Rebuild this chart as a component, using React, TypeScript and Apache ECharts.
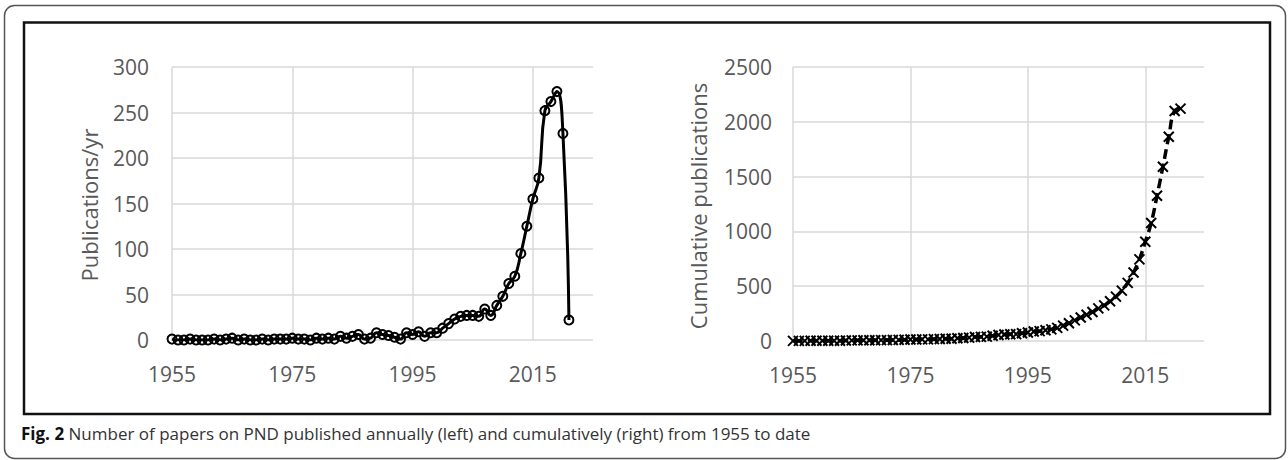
import React, { useEffect, useRef } from 'react';
import * as echarts from 'echarts';

const years = [
  1955, 1956, 1957, 1958, 1959, 1960, 1961, 1962, 1963, 1964,
  1965, 1966, 1967, 1968, 1969, 1970, 1971, 1972, 1973, 1974,
  1975, 1976, 1977, 1978, 1979, 1980, 1981, 1982, 1983, 1984,
  1985, 1986, 1987, 1988, 1989, 1990, 1991, 1992, 1993, 1994,
  1995, 1996, 1997, 1998, 1999, 2000, 2001, 2002, 2003, 2004,
  2005, 2006, 2007, 2008, 2009, 2010, 2011, 2012, 2013, 2014,
  2015, 2016, 2017, 2018, 2019, 2020, 2021,
];

const annual = [
  1, 0, 0, 1, 0, 0, 0, 1, 0, 1,
  2, 0, 1, 0, 0, 1, 0, 1, 1, 1,
  2, 1, 1, 0, 2, 1, 2, 1, 4, 2,
  4, 6, 1, 2, 8, 6, 5, 3, 1, 8,
  6, 9, 4, 8, 8, 13, 18, 23, 26, 27,
  27, 26, 34, 27, 38, 48, 62, 70, 95, 125,
  155, 178, 252, 262, 273, 227, 22,
];

const cumulative = [
  1, 1, 1, 2, 2, 2, 2, 3, 3, 4,
  6, 6, 7, 7, 7, 8, 8, 9, 10, 11,
  13, 14, 15, 15, 17, 18, 20, 21, 25, 27,
  31, 37, 38, 40, 48, 54, 59, 62, 63, 71,
  77, 86, 90, 98, 106, 120, 140, 162, 188, 214,
  240, 265, 298, 325, 362, 405, 460, 530, 625, 745,
  906, 1076, 1325, 1590, 1864, 2098, 2120,
];

const xTicks = { min: 1955, max: 2025, interval: 20 };
const leftY = { min: 0, max: 300, interval: 50 };
const rightY = { min: 0, max: 2500, interval: 500 };

const leftTitle = 'Publications/yr';
const rightTitle = 'Cumulative publications';
const captionBold = 'Fig. 2';
const captionText = 'Number of papers on PND published annually (left) and cumulatively (right) from 1955 to date';

const FONT = '"Open Sans", "Noto Sans", sans-serif';
const LABEL = '#595959';
const GRIDC = '#d9d9d9';

export default function App() {
  const ref = useRef<HTMLDivElement>(null);
  useEffect(() => {
    if (!ref.current) return;
    const chart = echarts.init(ref.current, null, { renderer: 'svg' });
    const xAxis = (gridIndex: number) => ({
      type: 'value',
      gridIndex,
      min: xTicks.min,
      max: xTicks.max,
      interval: xTicks.interval,
      axisLine: { show: false },
      axisTick: { show: false },
      axisLabel: {
        color: LABEL,
        fontSize: 21,
        fontFamily: FONT,
        margin: 23,
        showMaxLabel: false,
        formatter: (v: number) => String(v),
      },
      splitLine: { show: true, showMaxLine: false, lineStyle: { color: GRIDC, width: 1.5 } },
    });
    const yAxis = (gridIndex: number, cfg: { min: number; max: number; interval: number }, margin: number) => ({
      type: 'value',
      gridIndex,
      min: cfg.min,
      max: cfg.max,
      interval: cfg.interval,
      axisLine: { show: false },
      axisTick: { show: false },
      axisLabel: {
        color: LABEL,
        fontSize: 21,
        fontFamily: FONT,
        margin,
        formatter: (v: number) => String(v),
      },
      splitLine: { show: true, lineStyle: { color: GRIDC, width: 1.5 } },
    });
    const option = {
      animation: false,
      grid: [
        { left: 172, top: 67, width: 421, height: 273 },
        { left: 793, top: 67, width: 411, height: 274 },
      ],
      xAxis: [xAxis(0), xAxis(1)],
      yAxis: [yAxis(0, leftY, 23), yAxis(1, rightY, 21)],
      series: [
        {
          type: 'line',
          xAxisIndex: 0,
          yAxisIndex: 0,
          data: years.map((y, i) => [y, annual[i]]),
          smooth: true,
          symbol: 'circle',
          symbolSize: 9,
          showAllSymbol: true,
          lineStyle: { color: '#000', width: 3 },
          itemStyle: { color: 'rgba(0,0,0,0)', borderColor: '#000', borderWidth: 2 },
          silent: true,
          emphasis: { disabled: true },
        },
        {
          type: 'line',
          xAxisIndex: 1,
          yAxisIndex: 1,
          data: years.map((y, i) => [y, cumulative[i]]),
          smooth: true,
          symbol: 'path://M0,0L10,10M10,0L0,10',
          symbolSize: 10,
          showAllSymbol: true,
          lineStyle: { color: '#000', width: 3.5, type: [10, 5] },
          itemStyle: { color: 'rgba(0,0,0,0)', borderColor: '#000', borderWidth: 2 },
          silent: true,
          emphasis: { disabled: true },
        },
      ],
      graphic: [
        {
          type: 'rect',
          shape: { x: 4.5, y: 5.5, width: 1281, height: 453, r: 10 },
          style: { fill: 'none', stroke: '#555', lineWidth: 1.5 },
          silent: true,
        },
        {
          type: 'rect',
          shape: { x: 24, y: 22.5, width: 1246, height: 391.5 },
          style: { fill: 'none', stroke: '#111', lineWidth: 2.5 },
          silent: true,
        },
        {
          type: 'text',
          x: 89,
          y: 205,
          rotation: Math.PI / 2,
          style: {
            text: leftTitle,
            fill: LABEL,
            fontSize: 22,
            fontFamily: FONT,
            align: 'center',
            verticalAlign: 'middle',
          },
          silent: true,
        },
        {
          type: 'text',
          x: 698,
          y: 206,
          rotation: Math.PI / 2,
          style: {
            text: rightTitle,
            fill: LABEL,
            fontSize: 22,
            fontFamily: FONT,
            align: 'center',
            verticalAlign: 'middle',
          },
          silent: true,
        },
        {
          type: 'text',
          x: 21,
          y: 433,
          style: {
            text: '{b|' + captionBold + '} {n|' + captionText + '}',
            fontFamily: FONT,
            fontSize: 17,
            verticalAlign: 'middle',
            rich: {
              b: { fontFamily: FONT, fontSize: 17, fontWeight: 'bold', fill: '#111' },
              n: { fontFamily: FONT, fontSize: 17, fill: '#333' },
            },
          },
          silent: true,
        },
      ],
    };
    chart.setOption(option as any);
    return () => chart.dispose();
  }, []);
  return (
    <div
      ref={ref}
      style={{ position: 'fixed', left: 0, top: 0, width: 1288, height: 460, background: '#fff' }}
    />
  );
}
